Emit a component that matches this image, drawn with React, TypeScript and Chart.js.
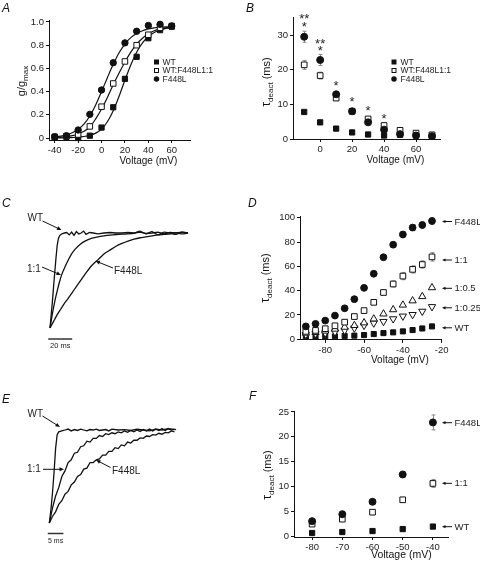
import React, { useEffect, useRef } from "react";
import { Chart, registerables } from "chart.js";

Chart.register(...registerables);

const FONT = "'Liberation Sans', Arial, Helvetica, sans-serif";
const INK = "#111";
const TICK_INK = "#222";
const ERR_INK = "#8a8a8a";

// ---------------- Panel A : activation ----------------
const A_VOLT = [-40, -30, -20, -10, 0, 10, 20, 30, 40, 50, 60];
const A_WT = [0.005, 0.01, 0.0, 0.02, 0.09, 0.265, 0.51, 0.7, 0.86, 0.93, 0.96];
const A_HET = [0.01, 0.015, 0.03, 0.1, 0.27, 0.47, 0.66, 0.8, 0.89, 0.95, 0.965];
const A_F448L = [0.011, 0.02, 0.069, 0.204, 0.414, 0.649, 0.82, 0.92, 0.97, 0.98, 0.966];
const A_FIT_V = [-40, -35, -30, -25, -20, -15, -10, -5, 0, 5, 10, 15, 20, 25, 30, 35, 40, 45, 50, 55, 60];
const A_FIT_WT = [0.001, 0.001, 0.002, 0.004, 0.007, 0.013, 0.023, 0.042, 0.077, 0.14, 0.235, 0.36, 0.5, 0.63, 0.74, 0.82, 0.875, 0.91, 0.93, 0.945, 0.952];
const A_FIT_HET = [0.004, 0.007, 0.012, 0.02, 0.035, 0.058, 0.095, 0.165, 0.25, 0.35, 0.46, 0.56, 0.655, 0.74, 0.81, 0.86, 0.9, 0.925, 0.94, 0.95, 0.955];
const A_FIT_F448L = [0.01, 0.016, 0.026, 0.045, 0.075, 0.12, 0.19, 0.285, 0.4, 0.52, 0.635, 0.735, 0.81, 0.865, 0.9, 0.925, 0.94, 0.95, 0.955, 0.958, 0.96];
const A_XTICKS = [-40, -20, 0, 20, 40, 60];
const A_YTICKS = [0, 0.2, 0.4, 0.6, 0.8, 1.0];
const LEGEND_LABELS = ["WT", "WT:F448L1:1", "F448L"];

// ---------------- Panel B : tau deact vs V ----------------
const B_VOLT = [-10, 0, 10, 20, 30, 40, 50, 60, 70];
const B_WT = [7.8, 4.8, 3.0, 1.9, 1.3, 1.0, 1.2, 1.0, 0.8];
const B_HET = [21.4, 18.3, 11.8, 8.0, 5.8, 3.9, 2.5, 1.7, 1.2];
const B_HET_ERR = [1.3, 1.0, 0.5, 0.3, 0.3, 0.3, 0.2, 0.1, 0.1];
const B_F448L = [29.5, 22.8, 12.9, 8.0, 4.8, 2.7, 1.4, 1.0, 0.8];
const B_F448L_ERR = [1.6, 1.6, 0.6, 0.4, 0.4, 0.3, 0.2, 0.1, 0.1];
const B_STAR_V = [-10, -10, 0, 0, 10, 20, 30, 40];
const B_STAR_Y = [35.6, 33.1, 28.4, 26.2, 16.1, 11.6, 9.0, 6.7];
const B_STAR_TXT = ["**", "*", "**", "*", "*", "*", "*", "*"];
const B_XTICKS = [0, 20, 40, 60];
const B_YTICKS = [0, 10, 20, 30];

// ---------------- Panel C : traces (ms, normalised current) ----------------
const C_WT_T = [0, 1, 2, 3, 4, 5, 6, 7, 8, 9, 10, 12, 14, 16, 18, 20, 22, 24, 26, 28, 30, 33, 36, 40, 45, 50, 55, 60, 65, 70, 75, 80, 85, 90, 95, 100, 105, 110, 115];
const C_WT_I = [-1, -0.86, -0.72, -0.56, -0.41, -0.26, -0.13, -0.06, -0.03, -0.015, -0.01, 0.0, 0.005, -0.02, 0.01, -0.025, 0.015, -0.01, 0.0, 0.02, -0.015, 0.005, 0.0, -0.01, 0.0, 0.005, 0.0, 0.0, 0.005, 0.0, 0.01, -0.005, 0.0, 0.01, -0.01, 0.005, 0.0, 0.01, 0.0];
const C_HET_T = [0, 2, 4, 6, 8, 10, 12, 15, 18, 21, 25, 30, 35, 40, 45, 50, 55, 60, 65, 70, 75, 80, 85, 90, 95, 100, 105, 110, 115];
const C_HET_I = [-1, -0.85, -0.72, -0.61, -0.51, -0.43, -0.37, -0.29, -0.22, -0.17, -0.12, -0.08, -0.055, -0.04, -0.03, -0.022, -0.016, -0.012, -0.01, -0.004, 0.02, -0.01, 0.015, -0.02, 0.01, 0.0, -0.015, 0.01, 0.0];
const C_F_T = [0, 3, 6, 9, 12, 15, 20, 25, 30, 35, 40, 45, 50, 55, 60, 65, 70, 75, 80, 85, 90, 95, 100, 105, 110, 115];
const C_F_I = [-1, -0.93, -0.86, -0.8, -0.74, -0.69, -0.6, -0.51, -0.42, -0.34, -0.28, -0.22, -0.18, -0.14, -0.11, -0.085, -0.065, -0.05, -0.04, -0.03, -0.02, -0.015, -0.01, 0.005, -0.01, 0.0];

// ---------------- Panel D ----------------
const D_VOLT = [-90, -85, -80, -75, -70, -65, -60, -55, -50, -45, -40, -35, -30, -25];
const D_F448L = [10.6, 12.7, 15.4, 19.5, 25.5, 33, 42.3, 53.9, 67.5, 77.8, 86.2, 91.9, 94, 97.3];
const D_F448L_ERR = [0.5, 0.5, 0.6, 0.7, 0.8, 1, 1, 1.2, 1.5, 2, 2, 2.5, 2.5, 2.5];
const D_HET = [6.5, 7.3, 8.7, 11.1, 14.1, 18.7, 23.6, 30.4, 38.5, 45.5, 52, 57.5, 61.5, 67.8];
const D_HET_ERR = [0.5, 0.5, 0.6, 0.7, 0.8, 1, 1.2, 1.5, 2, 2.5, 3, 3, 3, 3.5];
const D_HALF = [5.1, 5.7, 6.8, 8.4, 10, 11.4, 13.6, 16.8, 20.9, 24.4, 28.2, 31.7, 35.2, 42.5];
const D_QUARTER = [3.8, 4.6, 5.1, 6, 7.3, 9.2, 11.4, 13.3, 14.6, 16.8, 19, 20.3, 23, 26.8];
const D_WT = [2.2, 2.2, 2.4, 2.4, 2.7, 3, 3.5, 4.3, 5.1, 5.7, 6.5, 7.6, 8.9, 10.6];
const D_XTICKS = [-80, -60, -40, -20];
const D_YTICKS = [0, 20, 40, 60, 80, 100];
const D_LABELS = ["F448L", "1:1", "1:0.5", "1:0.25", "WT"];

// ---------------- Panel E : traces ----------------
const E_WT_T = [0, 0.5, 1, 1.5, 2, 2.5, 3, 4, 5, 6, 7, 8, 9, 10, 11, 12, 13, 14, 15, 16, 17, 18, 19, 20, 22, 24, 26, 28, 30, 32, 34, 36, 38, 40.5];
const E_WT_I = [-1, -0.86, -0.68, -0.46, -0.2, -0.05, -0.02, -0.01, 0.0, 0.01, -0.01, 0.005, -0.005, 0.01, 0.0, -0.01, 0.005, 0.0, 0.01, -0.005, 0.0, 0.005, -0.01, 0.01, 0.0, 0.005, -0.005, 0.01, 0.0, -0.01, 0.01, 0.0, 0.015, 0.005];
const E_HET_T = [0, 1, 2, 3, 4, 5, 6, 7, 8, 9, 10, 11, 12, 13, 14, 15, 16, 17, 18, 19, 20, 21, 22, 23, 24, 25, 26, 27, 28, 29, 30, 31, 32, 33, 34, 35, 36, 37, 38, 39, 40];
const E_HET_I = [-1, -0.84, -0.71, -0.62, -0.5, -0.44, -0.35, -0.32, -0.25, -0.24, -0.18, -0.17, -0.12, -0.13, -0.09, -0.09, -0.06, -0.07, -0.04, -0.05, -0.03, -0.04, -0.02, -0.03, -0.01, -0.025, -0.005, -0.02, 0.0, -0.015, 0.005, -0.01, 0.01, -0.01, 0.01, -0.005, 0.015, -0.005, 0.015, 0.0, 0.01];
const E_F_T = E_HET_T;
const E_F_I = [-1, -0.93, -0.88, -0.8, -0.76, -0.69, -0.66, -0.59, -0.56, -0.5, -0.48, -0.42, -0.41, -0.35, -0.35, -0.32, -0.31, -0.27, -0.27, -0.23, -0.23, -0.19, -0.2, -0.16, -0.17, -0.13, -0.14, -0.11, -0.11, -0.085, -0.09, -0.065, -0.07, -0.05, -0.055, -0.035, -0.045, -0.025, -0.03, -0.01, -0.02];

// ---------------- Panel F ----------------
const F_VOLT = [-80, -70, -60, -50, -40];
const F_F448L = [3.0, 4.4, 6.9, 12.4, 22.9];
const F_F448L_ERR = [0.2, 0.3, 0.4, 0.5, 1.5];
const F_HET = [2.4, 3.4, 4.8, 7.3, 10.6];
const F_HET_ERR = [0.2, 0.2, 0.3, 0.3, 0.8];
const F_WT = [0.6, 0.8, 1.0, 1.4, 1.9];
const F_XTICKS = [-80, -70, -60, -50, -40];
const F_YTICKS = [0, 5, 10, 15, 20, 25];
const F_LABELS = ["F448L", "1:1", "WT"];

// ------------------------------------------------------------
type Box = { x: number; y: number; w: number; h: number };
type Area = { left: number; top: number; right: number; bottom: number };

const pts = (xs: number[], ys: number[]) => xs.map((x, i) => ({ x, y: ys[i] }));

function axis(min: number, max: number, ticks: number[], fmt: (v: number) => string, fit: number, horizontal: boolean) {
  return {
    type: "linear",
    min,
    max,
    afterBuildTicks: (s: any) => {
      s.ticks = ticks.map((v) => ({ value: v }));
    },
    afterFit: (s: any) => {
      if (horizontal) s.height = fit;
      else s.width = fit;
    },
    grid: { display: true, drawOnChartArea: false, drawTicks: true, tickLength: 3, color: INK, lineWidth: 1 },
    border: { display: true, color: INK, width: 1 },
    ticks: {
      autoSkip: false,
      maxRotation: 0,
      minRotation: 0,
      padding: 2,
      color: TICK_INK,
      font: { family: FONT, size: 9.5 },
      callback: (v: any) => fmt(Number(v)),
    },
  };
}

const hidden = (min: number, max: number) => ({ type: "linear", min, max, display: false });

function markers(xs: number[], ys: number[], style: string, filled: boolean, r: number, order: number, rot = 0) {
  return {
    data: pts(xs, ys),
    showLine: false,
    pointStyle: style,
    pointRadius: r,
    pointHoverRadius: r,
    pointRotation: rot,
    pointBackgroundColor: filled ? INK : "#fff",
    pointBorderColor: INK,
    pointBorderWidth: 1,
    order,
    clip: false,
  };
}

function line(xs: number[], ys: number[], width: number, order: number, tension = 0) {
  return {
    data: pts(xs, ys),
    showLine: true,
    pointRadius: 0,
    pointHoverRadius: 0,
    borderColor: INK,
    borderWidth: width,
    tension,
    fill: false,
    order,
    clip: false,
  };
}

function makeConfig(box: Box, area: Area, datasets: any[], scales: any, draw: (ctx: any, chart: any, px: any, py: any) => void, under?: (ctx: any, chart: any, px: any, py: any) => void, axesVisible = true) {
  const padding = axesVisible
    ? { left: 0, top: area.top - box.y, right: box.x + box.w - area.right, bottom: 0 }
    : { left: area.left - box.x, top: area.top - box.y, right: box.x + box.w - area.right, bottom: box.y + box.h - area.bottom };
  const mk = (chart: any) => {
    const px = (v: number) => chart.scales.x.getPixelForValue(v) + box.x;
    const py = (v: number) => chart.scales.y.getPixelForValue(v) + box.y;
    return { px, py };
  };
  const plugin = {
    id: "deco",
    beforeDatasetsDraw(chart: any) {
      if (!under) return;
      const ctx = chart.ctx;
      const { px, py } = mk(chart);
      ctx.save();
      ctx.translate(-box.x, -box.y);
      under(ctx, chart, px, py);
      ctx.restore();
    },
    afterDraw(chart: any) {
      const ctx = chart.ctx;
      const { px, py } = mk(chart);
      ctx.save();
      ctx.translate(-box.x, -box.y);
      draw(ctx, chart, px, py);
      ctx.restore();
    },
  };
  return {
    type: "scatter",
    data: { datasets },
    options: {
      responsive: false,
      maintainAspectRatio: false,
      animation: false,
      devicePixelRatio: 1,
      events: [],
      layout: { autoPadding: false, padding },
      plugins: { legend: { display: false }, tooltip: { enabled: false } },
      scales,
    },
    plugins: [plugin],
  };
}

// ---------- drawing helpers (page coordinates) ----------
function txt(ctx: any, s: string, x: number, y: number, size: number, align = "left", style = "", color = INK) {
  ctx.font = `${style} ${size}px ${FONT}`.trim();
  ctx.fillStyle = color;
  ctx.textAlign = align;
  ctx.textBaseline = "middle";
  ctx.fillText(s, x, y);
}

function letter(ctx: any, s: string, x: number, baseline: number) {
  ctx.font = `italic 12px ${FONT}`;
  ctx.fillStyle = INK;
  ctx.textAlign = "left";
  ctx.textBaseline = "alphabetic";
  ctx.fillText(s, x, baseline);
}

function arrow(ctx: any, x1: number, y1: number, x2: number, y2: number, head = 4.5, hw = 2) {
  const a = Math.atan2(y2 - y1, x2 - x1);
  ctx.strokeStyle = INK;
  ctx.fillStyle = INK;
  ctx.lineWidth = 1;
  ctx.beginPath();
  ctx.moveTo(x1, y1);
  ctx.lineTo(x2 - Math.cos(a) * head * 0.8, y2 - Math.sin(a) * head * 0.8);
  ctx.stroke();
  ctx.beginPath();
  ctx.moveTo(x2, y2);
  ctx.lineTo(x2 - Math.cos(a) * head - Math.sin(a) * hw, y2 - Math.sin(a) * head + Math.cos(a) * hw);
  ctx.lineTo(x2 - Math.cos(a) * head + Math.sin(a) * hw, y2 - Math.sin(a) * head - Math.cos(a) * hw);
  ctx.closePath();
  ctx.fill();
}

// parts: [text, size, baselineOffset]
function vTitle(ctx: any, cx: number, cy: number, parts: [string, number, number][]) {
  ctx.save();
  ctx.translate(cx, cy);
  ctx.rotate(-Math.PI / 2);
  ctx.fillStyle = INK;
  ctx.textBaseline = "alphabetic";
  ctx.textAlign = "left";
  let total = 0;
  for (const [s, size] of parts) {
    ctx.font = `${size}px ${FONT}`;
    total += ctx.measureText(s).width;
  }
  let x = -total / 2;
  for (const [s, size, dy] of parts) {
    ctx.font = `${size}px ${FONT}`;
    ctx.fillText(s, x, 4 + dy);
    x += ctx.measureText(s).width;
  }
  ctx.restore();
}

const TAU_TITLE: [string, number, number][] = [
  ["τ", 12, 0],
  ["deact", 8, 3],
  [" (ms)", 11, 0],
];

function marker(ctx: any, kind: string, x: number, y: number, s: number) {
  ctx.lineWidth = 1;
  if (kind === "dot") {
    ctx.beginPath();
    ctx.arc(x, y, s / 2, 0, Math.PI * 2);
    ctx.fillStyle = INK;
    ctx.fill();
  } else if (kind === "sq") {
    ctx.fillStyle = INK;
    ctx.fillRect(x - s / 2, y - s / 2, s, s);
  } else {
    ctx.fillStyle = "#fff";
    ctx.fillRect(x - s / 2, y - s / 2, s, s);
    ctx.strokeStyle = INK;
    ctx.strokeRect(x - s / 2 + 0.5, y - s / 2 + 0.5, s - 1, s - 1);
  }
}

function legend(ctx: any, mx: number, tx: number, ys: number[]) {
  const kinds = ["sq", "osq", "dot"];
  LEGEND_LABELS.forEach((lab, i) => {
    marker(ctx, kinds[i], mx, ys[i], i === 2 ? 5.5 : 5);
    txt(ctx, lab, tx, ys[i] + 0.5, 8.5, "left", "", "#222");
  });
}

function errBars(ctx: any, px: any, py: any, xs: number[], ys: number[], es: number[]) {
  ctx.strokeStyle = ERR_INK;
  ctx.lineWidth = 1;
  xs.forEach((v, i) => {
    const x = Math.round(px(v)) + 0.5;
    const y1 = py(ys[i] + es[i]);
    const y2 = py(ys[i] - es[i]);
    ctx.beginPath();
    ctx.moveTo(x, y1);
    ctx.lineTo(x, y2);
    ctx.moveTo(x - 2, y1);
    ctx.lineTo(x + 2, y1);
    ctx.moveTo(x - 2, y2);
    ctx.lineTo(x + 2, y2);
    ctx.stroke();
  });
}

function rightLabels(ctx: any, labels: string[], ys: number[]) {
  labels.forEach((lab, i) => {
    arrow(ctx, 452, ys[i], 442, ys[i], 3.5, 1.6);
    txt(ctx, lab, 454.5, ys[i] + 0.5, 9.5, "left", "", "#222");
  });
}

const fmtInt = (v: number) => String(Math.round(v));

// ---------- panel builders ----------
function buildA(box: Box, area: Area) {
  const ds = [
    line(A_FIT_V, A_FIT_F448L, 1.2, 5, 0.3),
    line(A_FIT_V, A_FIT_HET, 1.2, 5, 0.3),
    line(A_FIT_V, A_FIT_WT, 1.2, 5, 0.3),
    markers(A_VOLT, A_F448L, "circle", true, 3.2, 0),
    markers(A_VOLT, A_HET, "rect", false, 3.9, 1),
    markers(A_VOLT, A_WT, "rect", true, 3.7, 2),
  ];
  const scales = {
    x: axis(-44.9, 75.6, A_XTICKS, fmtInt, box.y + box.h - area.bottom, true),
    y: axis(-0.0172, 1.0172, A_YTICKS, (v) => (v === 0 ? "0" : v.toFixed(1)), area.left - box.x, false),
  };
  return makeConfig(box, area, ds, scales, (ctx) => {
    letter(ctx, "A", 2, 12);
    vTitle(ctx, 21, 81, [
      ["g/g", 11, 0],
      ["max", 8, 3],
    ]);
    txt(ctx, "Voltage (mV)", 119.5, 161.5, 10);
    legend(ctx, 156.5, 162.5, [62, 70.5, 79]);
  });
}

function buildB(box: Box, area: Area) {
  const ds = [
    markers(B_VOLT, B_F448L, "circle", true, 3.5, 0),
    markers(B_VOLT, B_HET, "rect", false, 4.0, 1),
    markers(B_VOLT, B_WT, "rect", true, 3.7, 2),
  ];
  const scales = {
    x: axis(-17, 75, B_XTICKS, fmtInt, box.y + box.h - area.bottom, true),
    y: axis(0, 35, B_YTICKS, fmtInt, area.left - box.x, false),
  };
  return makeConfig(
    box,
    area,
    ds,
    scales,
    (ctx, chart, px, py) => {
      letter(ctx, "B", 246, 12);
      vTitle(ctx, 266, 82, TAU_TITLE);
      txt(ctx, "Voltage (mV)", 366.5, 160.5, 10);
      legend(ctx, 394, 400.5, [62, 70.5, 79]);
      ctx.font = `13px ${FONT}`;
      ctx.fillStyle = "#222";
      ctx.textAlign = "center";
      ctx.textBaseline = "alphabetic";
      B_STAR_V.forEach((v, i) => {
        ctx.fillText(B_STAR_TXT[i], px(v), py(B_STAR_Y[i]) + 7.2);
      });
    },
    (ctx, chart, px, py) => {
      errBars(ctx, px, py, B_VOLT, B_HET, B_HET_ERR);
      errBars(ctx, px, py, B_VOLT, B_F448L, B_F448L_ERR);
    }
  );
}

function buildC(box: Box, area: Area) {
  const ds = [line(C_WT_T, C_WT_I, 1.3, 0), line(C_HET_T, C_HET_I, 1.3, 1, 0.2), line(C_F_T, C_F_I, 1.3, 2, 0.2)];
  const scales = { x: hidden(-2, 117), y: hidden(-1.1, 0.1) };
  return makeConfig(
    box,
    area,
    ds,
    scales,
    (ctx, chart, px, py) => {
      letter(ctx, "C", 2, 207);
      txt(ctx, "WT", 27.5, 218.5, 10, "left", "", "#222");
      arrow(ctx, 42.5, 221, 61.5, 230);
      txt(ctx, "1:1", 27, 269.5, 10, "left", "", "#222");
      arrow(ctx, 42, 267, 61, 275);
      txt(ctx, "F448L", 114, 271, 10, "left", "", "#222");
      arrow(ctx, 113, 268, 95.5, 261);
      // 20 ms scale bar
      ctx.strokeStyle = "#333";
      ctx.lineWidth = 1.5;
      ctx.beginPath();
      ctx.moveTo(px(-1.5), 339);
      ctx.lineTo(px(18.5), 339);
      ctx.stroke();
      txt(ctx, "20 ms", (px(-1.5) + px(18.5)) / 2, 346, 7.5, "center", "", "#222");
    },
    undefined,
    false
  );
}

function buildD(box: Box, area: Area) {
  const ds = [
    markers(D_VOLT, D_F448L, "circle", true, 3.4, 0),
    markers(D_VOLT, D_HET, "rect", false, 4.0, 1),
    markers(D_VOLT, D_HALF, "triangle", false, 4.2, 2),
    markers(D_VOLT, D_QUARTER, "triangle", false, 4.2, 3, 180),
    markers(D_VOLT, D_WT, "rect", true, 3.6, 4),
  ];
  const scales = {
    x: axis(-93, -20, D_XTICKS, fmtInt, box.y + box.h - area.bottom, true),
    y: axis(-0.5, 101, D_YTICKS, fmtInt, area.left - box.x, false),
  };
  return makeConfig(
    box,
    area,
    ds,
    scales,
    (ctx) => {
      letter(ctx, "D", 248, 207);
      vTitle(ctx, 265, 278, TAU_TITLE);
      txt(ctx, "Voltage (mV)", 371, 360, 10);
      rightLabels(ctx, D_LABELS, [221.5, 260, 288.3, 307.8, 327.8]);
    },
    (ctx, chart, px, py) => {
      errBars(ctx, px, py, D_VOLT, D_HET, D_HET_ERR);
      errBars(ctx, px, py, D_VOLT, D_F448L, D_F448L_ERR);
    }
  );
}

function buildE(box: Box, area: Area) {
  const ds = [line(E_WT_T, E_WT_I, 1.3, 0), line(E_HET_T, E_HET_I, 1.3, 1), line(E_F_T, E_F_I, 1.3, 2)];
  const scales = { x: hidden(-1, 42), y: hidden(-1.1, 0.1) };
  return makeConfig(
    box,
    area,
    ds,
    scales,
    (ctx, chart, px, py) => {
      letter(ctx, "E", 2, 403);
      txt(ctx, "WT", 27.5, 414, 10, "left", "", "#222");
      arrow(ctx, 42.5, 416, 60, 427);
      txt(ctx, "1:1", 27, 469.5, 10, "left", "", "#222");
      arrow(ctx, 43, 469.3, 64, 469.3);
      txt(ctx, "F448L", 112, 471, 10, "left", "", "#222");
      arrow(ctx, 110.5, 467.5, 96, 460);
      ctx.strokeStyle = "#333";
      ctx.lineWidth = 1.5;
      ctx.beginPath();
      ctx.moveTo(px(-0.5), 533.5);
      ctx.lineTo(px(4.5), 533.5);
      ctx.stroke();
      txt(ctx, "5 ms", (px(-0.5) + px(4.5)) / 2, 541, 7, "center", "", "#222");
    },
    undefined,
    false
  );
}

function buildF(box: Box, area: Area) {
  const ds = [
    markers(F_VOLT, F_F448L, "circle", true, 3.5, 0),
    markers(F_VOLT, F_HET, "rect", false, 4.0, 1),
    markers(F_VOLT, F_WT, "rect", true, 3.7, 2),
  ];
  const scales = {
    x: axis(-86, -35, F_XTICKS, fmtInt, box.y + box.h - area.bottom, true),
    y: axis(-0.2, 25.2, F_YTICKS, fmtInt, area.left - box.x, false),
  };
  return makeConfig(
    box,
    area,
    ds,
    scales,
    (ctx) => {
      letter(ctx, "F", 249, 400);
      vTitle(ctx, 267, 475, TAU_TITLE);
      txt(ctx, "Voltage (mV)", 371, 555, 10.5);
      rightLabels(ctx, F_LABELS, [422.7, 483.3, 526.7]);
    },
    (ctx, chart, px, py) => {
      errBars(ctx, px, py, F_VOLT, F_HET, F_HET_ERR);
      errBars(ctx, px, py, F_VOLT, F_F448L, F_F448L_ERR);
    }
  );
}

function Panel({ box, area, build }: { box: Box; area: Area; build: (b: Box, a: Area) => any }) {
  const ref = useRef<HTMLCanvasElement>(null);
  useEffect(() => {
    const chart = new Chart(ref.current as HTMLCanvasElement, build(box, area) as any);
    return () => chart.destroy();
  }, []);
  return (
    <canvas
      ref={ref}
      width={box.w}
      height={box.h}
      style={{ position: "absolute", left: box.x, top: box.y, width: box.w, height: box.h }}
    />
  );
}

export default function App() {
  useEffect(() => {
    document.body.style.margin = "0";
    document.body.style.background = "#fff";
  }, []);
  return (
    <div style={{ position: "relative", width: 480, height: 561, background: "#fff", overflow: "hidden" }}>
      <Panel box={{ x: 0, y: 0, w: 240, h: 180 }} area={{ left: 49, top: 20, right: 190, bottom: 140 }} build={buildA} />
      <Panel box={{ x: 240, y: 0, w: 240, h: 180 }} area={{ left: 293, top: 17.7, right: 440, bottom: 139 }} build={buildB} />
      <Panel box={{ x: 0, y: 180, w: 240, h: 190 }} area={{ left: 47.6, top: 223.5, right: 190.4, bottom: 337.5 }} build={buildC} />
      <Panel box={{ x: 240, y: 180, w: 240, h: 190 }} area={{ left: 300, top: 216.5, right: 441.7, bottom: 339.9 }} build={buildD} />
      <Panel box={{ x: 0, y: 370, w: 240, h: 191 }} area={{ left: 46.2, top: 420.7, right: 180.8, bottom: 532.3 }} build={buildE} />
      <Panel box={{ x: 240, y: 370, w: 240, h: 191 }} area={{ left: 294, top: 411, right: 448, bottom: 537 }} build={buildF} />
    </div>
  );
}
